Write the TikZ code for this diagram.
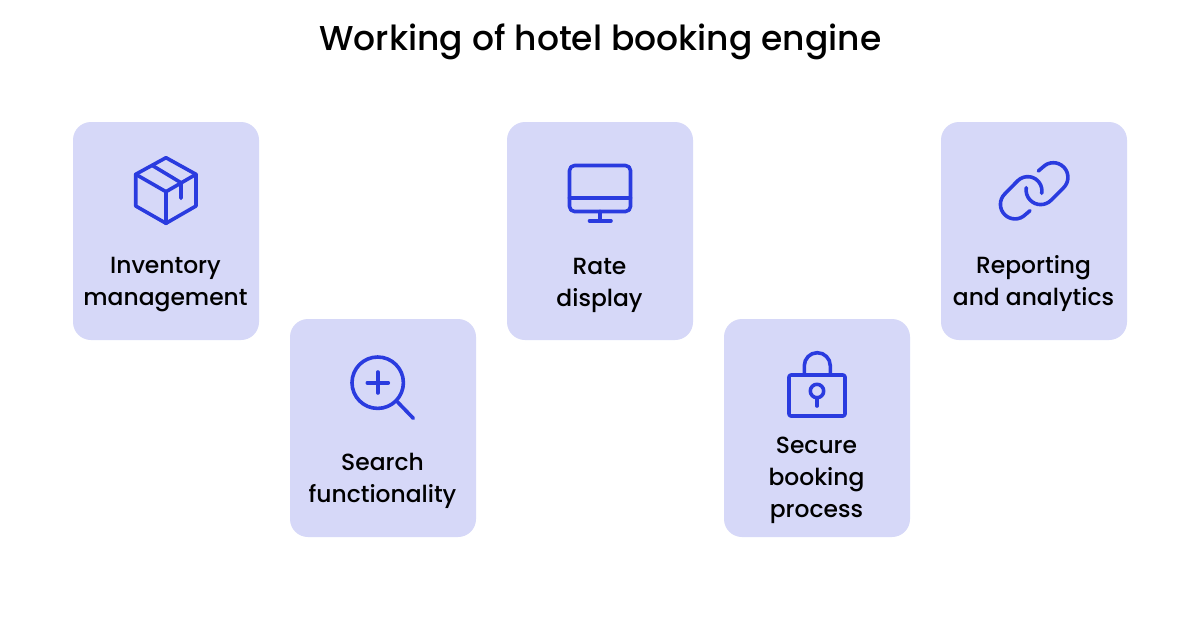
\documentclass[tikz,border=0pt]{standalone}
\usepackage{fontspec}
\setmainfont{Poppins}[UprightFont=* Medium]
\definecolor{cardfill}{HTML}{D6D8F8}
\definecolor{iconblue}{HTML}{2A3BDF}
\tikzset{
  card/.style={fill=cardfill,rounded corners=18pt,draw=none},
  icon/.style={draw=iconblue,line width=3.6pt,line cap=round,line join=round},
  label/.style={align=center,inner sep=0pt,text=black,font=\fontsize{23.4}{32}\selectfont},
  headline/.style={inner sep=0pt,text=black,font=\fontsize{34.5}{40}\selectfont}
}
\begin{document}
\begin{tikzpicture}[x=1pt,y=-1pt]
\useasboundingbox (0,0) rectangle (1200,630);
\fill[white] (0,0) rectangle (1200,630);
\node[headline] (title) at (600.5,42) {Working of hotel booking engine};
\path[card] (73,122) rectangle (259,340);
\path[card] (290,319) rectangle (476,537);
\path[card] (507,122) rectangle (693,340);
\path[card] (724,319) rectangle (910,537);
\path[card] (941,122) rectangle (1127,340);
\node[label] (l1) at (165.5,285) {Inventory\\management};
\node[label] (l2) at (382.5,480.5) {Search\\functionality};
\node[label] (l3) at (599.5,285) {Rate\\display};
\node[label] (l4) at (816.5,480) {Secure\\booking\\process};
\node[label] (l5) at (1033.5,284) {Reporting\\and analytics};
% box
\draw[icon] (166,157.7) -- (196,174.3) -- (196,206) -- (166,223.3) -- (135.7,206) -- (135.7,174.3) -- cycle;
\draw[icon] (135.7,174.3) -- (166,191.7) -- (196,174.3);
\draw[icon] (166,191.7) -- (166,223.3);
\draw[icon] (152.7,165.7) -- (181,182.7) -- (181,198.3);
% search
\draw[icon] (377.7,382.7) circle [radius=25.7];
\draw[icon] (367.3,382.7) -- (388.3,382.7);
\draw[icon] (377.7,372) -- (377.7,393);
\draw[icon] (397.3,401.7) -- (413.3,418.3);
% monitor
\draw[icon,rounded corners=5pt] (569.5,165.5) rectangle (630.5,211.5);
\draw[icon] (569.5,197.7) -- (630.5,197.7);
\draw[icon] (600,211.5) -- (600,220.7);
\draw[icon] (589.5,220.7) -- (611,220.7);
% lock
\draw[icon,rounded corners=2pt] (789,375) rectangle (845,416);
\draw[icon] (804.3,375) -- (804.3,365.7) arc[start angle=180,end angle=360,radius=13] -- (830.3,375);
\draw[icon] (817,391) circle [radius=6.7];
\draw[icon] (817,398) -- (817,406);
% link
\draw[icon] (1038.3,171) -- (1043,167) arc[start angle=225,end angle=405,radius=14.6] -- (1051,200.3) arc[start angle=45,end angle=189,radius=14.6];
\draw[icon] (1041.7,193.3) arc[start angle=10,end angle=-135,radius=14.2] -- (1004.7,194) arc[start angle=225,end angle=45,radius=14.6] -- (1030,210.7);
\end{tikzpicture}
\end{document}
